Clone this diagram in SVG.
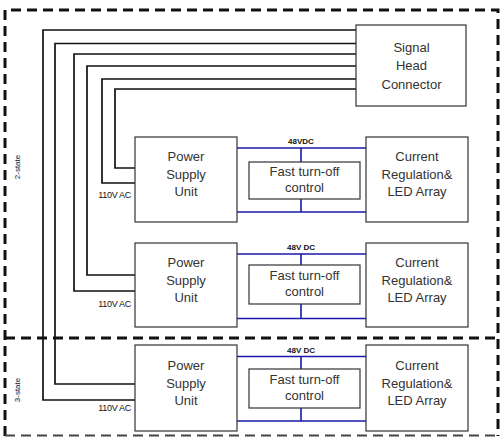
<svg xmlns="http://www.w3.org/2000/svg" width="501" height="438" viewBox="0 0 501 438">
<style>
.box{fill:#fff;stroke:#333;stroke-width:1.2}
.t{font-family:"Liberation Sans",Arial,sans-serif;font-size:13px;fill:#333;text-anchor:middle}
.s{font-family:"Liberation Sans",Arial,sans-serif;font-size:8px;fill:#111;text-anchor:middle}
.ac{font-family:"Liberation Sans",Arial,sans-serif;font-size:9px;fill:#111;text-anchor:end;letter-spacing:-0.3px}
.sb{font-family:"Liberation Sans",Arial,sans-serif;font-size:8px;font-weight:bold;fill:#111;text-anchor:middle}
.w{fill:none;stroke:#111;stroke-width:1.7}
.b{fill:none;stroke:#1a1aa8;stroke-width:1.6}
.d{fill:none;stroke:#111;stroke-width:3;stroke-dasharray:10 6}
</style>
<rect width="501" height="438" fill="#fff"/>
<g id="frame">
<path class="d" d="M5,436 V10 H498 V436"/>
<path d="M5,435.5 H498" fill="none" stroke="#444" stroke-width="1.8" stroke-dasharray="10 6"/>
<path class="d" d="M5,338 H498"/>
<text class="s" transform="translate(20,167) rotate(-90)">2-state</text>
<text class="s" transform="translate(20,390) rotate(-90)">3-state</text>
</g>
<g id="connectors">
<path class="w" d="M356,30 H43 V400 H135"/>
<path class="w" d="M356,43.5 H55 V384 H135"/>
<path class="w" d="M356,54 H74 V291 H135"/>
<path class="w" d="M356,66 H87 V275 H135"/>
<path class="w" d="M356,79 H102 V183 H135"/>
<path class="w" d="M356,89 H115 V168 H135"/>
<path class="b" d="M237,148 H366 M237,212 H366 M301,148 V162 M301,199 V212"/>
<path class="b" d="M237,254 H366 M237,318.5 H366 M301,254 V265 M301,304 V318.5"/>
<path class="b" d="M237,356.5 H366 M237,421 H366 M301,356.5 V369 M301,408 V421"/>
<text class="sb" x="301" y="144">48VDC</text>
<text class="sb" x="301" y="249.5">48V DC</text>
<text class="sb" x="301" y="353">48V DC</text>
<text class="ac" x="131" y="198">110V AC</text>
<text class="ac" x="131" y="306.5">110V AC</text>
<text class="ac" x="131" y="410.5">110V AC</text>
</g>
<g id="signal-head">
<rect class="box" x="356" y="25" width="110" height="81"/>
<text class="t" x="411.5" y="51.5">Signal</text>
<text class="t" x="411.5" y="70">Head</text>
<text class="t" x="411.5" y="88.5">Connector</text>
</g>
<g id="psu1">
<rect class="box" x="135" y="137" width="102" height="85"/>
<text class="t" x="186" y="161">Power</text>
<text class="t" x="186" y="179">Supply</text>
<text class="t" x="186" y="196">Unit</text>
</g>
<g id="psu2">
<rect class="box" x="135" y="243" width="102" height="84"/>
<text class="t" x="186" y="267">Power</text>
<text class="t" x="186" y="285">Supply</text>
<text class="t" x="186" y="302">Unit</text>
</g>
<g id="psu3">
<rect class="box" x="135" y="345" width="102" height="86"/>
<text class="t" x="186" y="370">Power</text>
<text class="t" x="186" y="388">Supply</text>
<text class="t" x="186" y="405">Unit</text>
</g>
<g id="ftc1">
<rect class="box" x="249" y="162" width="111" height="37"/>
<text class="t" x="304.5" y="176">Fast turn-off</text>
<text class="t" x="304.5" y="192">control</text>
</g>
<g id="ftc2">
<rect class="box" x="249" y="265" width="111" height="39"/>
<text class="t" x="304.5" y="280">Fast turn-off</text>
<text class="t" x="304.5" y="296">control</text>
</g>
<g id="ftc3">
<rect class="box" x="249" y="369" width="111" height="39"/>
<text class="t" x="304.5" y="384">Fast turn-off</text>
<text class="t" x="304.5" y="400">control</text>
</g>
<g id="cr1">
<rect class="box" x="366" y="137" width="102" height="85"/>
<text class="t" x="417" y="161">Current</text>
<text class="t" x="417" y="179">Regulation&amp;</text>
<text class="t" x="417" y="196">LED Array</text>
</g>
<g id="cr2">
<rect class="box" x="366" y="243" width="102" height="84"/>
<text class="t" x="417" y="267">Current</text>
<text class="t" x="417" y="285">Regulation&amp;</text>
<text class="t" x="417" y="302">LED Array</text>
</g>
<g id="cr3">
<rect class="box" x="366" y="345" width="102" height="86"/>
<text class="t" x="417" y="370">Current</text>
<text class="t" x="417" y="388">Regulation&amp;</text>
<text class="t" x="417" y="405">LED Array</text>
</g>
</svg>
